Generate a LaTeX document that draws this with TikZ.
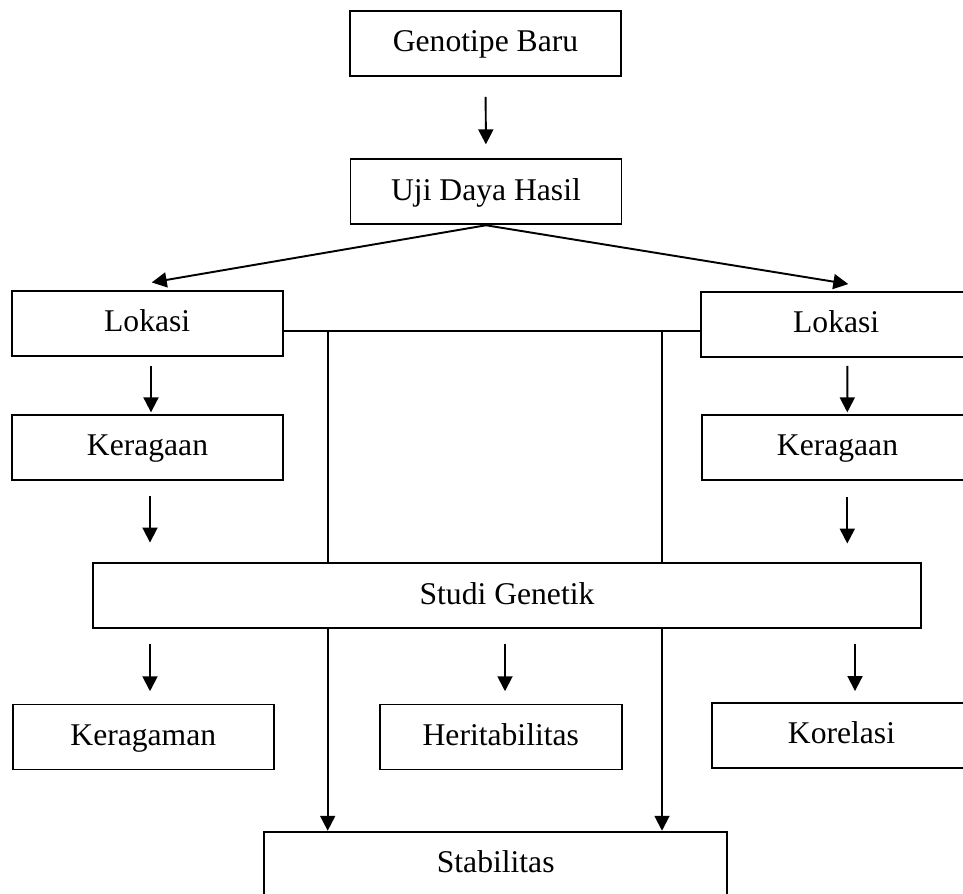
\documentclass[tikz,border=0pt]{standalone}
\usepackage{fontspec}
\setmainfont{Liberation Serif}
\usetikzlibrary{arrows.meta,positioning,calc}

\begin{document}
\begin{tikzpicture}[
    x=0.02cm, y=-0.02cm,
    block/.style={draw, line width=1.1pt, minimum height=1.3cm, inner sep=0pt, text height=13.5pt, text depth=4pt, text centered, font=\fontsize{18}{22}\selectfont},
    wideblock/.style={block, minimum width=5.42cm},
    connect/.style={line width=1.1pt},
    flowarrow/.style={connect, -{Triangle[length=0.3cm, width=0.3cm]}}
]
\useasboundingbox (0,0) rectangle (963,893);
\clip (0,0) rectangle (963,893);

% Top column
\node[wideblock] (gen) at (485.5,43.3) {Genotipe Baru};
\node[wideblock] (uji) at (486,191.8) {Uji Daya Hasil};

% Left and right branches
\node[wideblock] (lokL) at (147.2,323.3) {Lokasi};
\node[wideblock] (kerL) at (147.5,447.5) {Keragaan};
\node[wideblock] (lokR) at (836.2,324.2) {Lokasi};
\node[wideblock] (kerR) at (837.5,447.5) {Keragaan};

% Genetic study and its results
\node[block, minimum width=16.55cm] (studi) at (507,595.7) {Studi Genetik};
\node[block, minimum width=5.23cm] (kgm) at (143.3,737) {Keragaman};
\node[block, minimum width=4.83cm] (her) at (500.8,737) {Heritabilitas};
\node[block, minimum width=5.19cm] (kor) at (841.5,735.5) {Korelasi};
\node[block, minimum width=9.27cm] (stab) at (495.7,864.2) {Stabilitas};

% Junctions on the line between both locations
\coordinate (jl) at (327.7,330.7);
\coordinate (jr) at (662,330.7);

% Arrows down the top column
\draw[flowarrow, shorten <=0.4cm, shorten >=0.28cm] (gen.south) -- (uji.north);
\draw[flowarrow] (uji.south) -- ($(lokL.north)+(4.5,-7.4)$);
\draw[flowarrow] (uji.south) -- ($(lokR.north)+(12.1,-6.7)$);

% Left branch
\draw[flowarrow] ($(lokL.south)+(3.8,9.7)$) -- ($(kerL.north)+(3.5,-1.7)$);
\draw[flowarrow] ($(kerL.south)+(2.5,15)$) -- ($(kerL.south |- studi.north)+(2.5,-19.7)$);

% Right branch
\draw[flowarrow] ($(lokR.south)+(11.1,8.3)$) -- ($(kerR.north)+(9.8,-1.7)$);
\draw[flowarrow] ($(kerR.south)+(9.8,16)$) -- ($(kerR.south |- studi.north)+(9.8,-18.7)$);

% Line between locations and the two verticals to Stabilitas
\draw[connect] (lokL.east |- jl) -- (lokR.west |- jr);
\draw[connect] (jl) -- (jl |- studi.north);
\draw[connect] (jr) -- (jr |- studi.north);
\draw[flowarrow] (jl |- studi.south) -- (jl |- stab.north);
\draw[flowarrow] (jr |- studi.south) -- (jr |- stab.north);

% Results of the genetic study
\draw[flowarrow] ($(kgm.north |- studi.south)+(6.7,14.4)$) -- ($(kgm.north)+(6.7,-12.3)$);
\draw[flowarrow] ($(her.north |- studi.south)+(4.2,14.4)$) -- ($(her.north)+(4.2,-12.3)$);
\draw[flowarrow] ($(kor.north |- studi.south)+(13.5,15)$) -- ($(kor.north)+(13.5,-11)$);

\end{tikzpicture}
\end{document}
